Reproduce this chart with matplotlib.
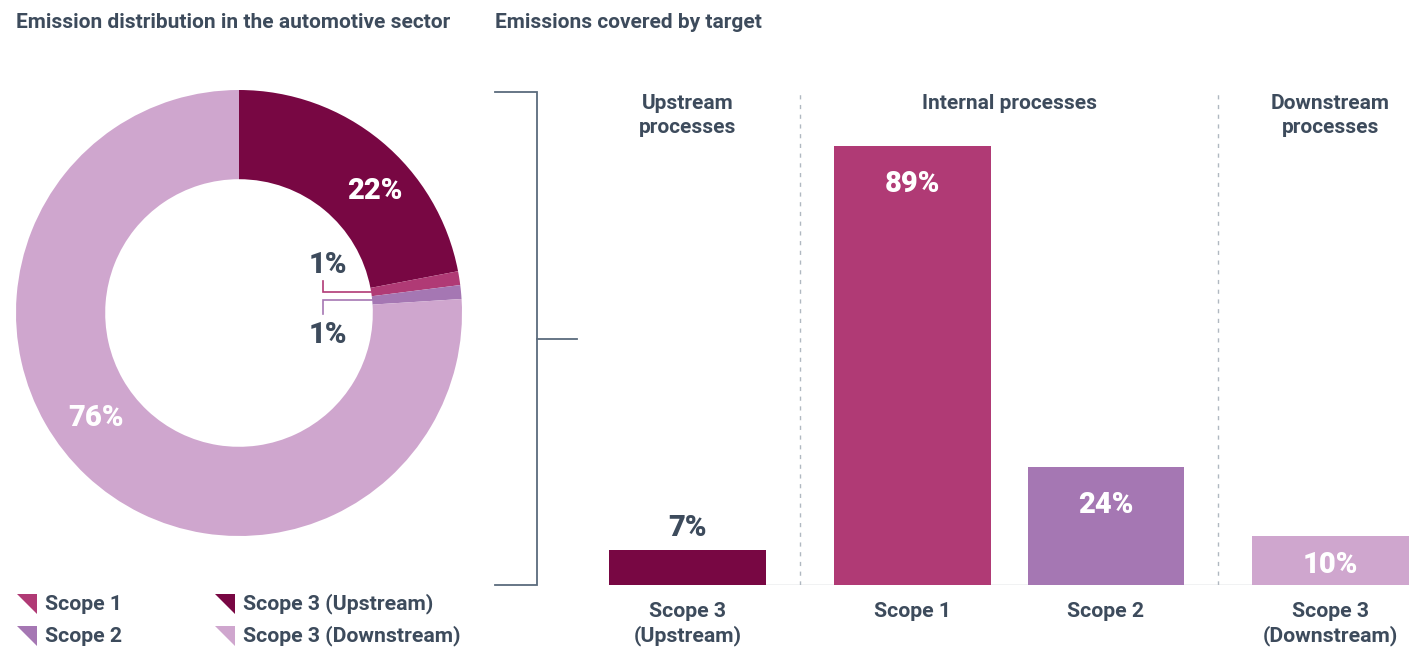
import numpy as np
import matplotlib
matplotlib.use("Agg")
import matplotlib.pyplot as plt
from matplotlib.patches import Polygon

plt.rcParams['font.family'] = ['Roboto', 'DejaVu Sans']
plt.rcParams['font.weight'] = 'bold'

# data
pie_labels = ['Scope 3 (Upstream)', 'Scope 1', 'Scope 2', 'Scope 3 (Downstream)']
pie_values = [22, 1, 1, 76]
pie_colors = ['#780743', '#B03A75', '#A577B3', '#CFA6CE']

bar_labels = ['Scope 3\n(Upstream)', 'Scope 1', 'Scope 2', 'Scope 3\n(Downstream)']
bar_values = [7, 89, 24, 10]
bar_colors = ['#780743', '#B03A75', '#A577B3', '#CFA6CE']
group_titles = ['Upstream\nprocesses', 'Internal processes', 'Downstream\nprocesses']

legend_labels = ['Scope 1', 'Scope 2', 'Scope 3 (Upstream)', 'Scope 3 (Downstream)']
legend_colors = ['#B03A75', '#A577B3', '#780743', '#CFA6CE']

TXT = '#3D4B5C'
W, H = 1409, 650
PCT = dict(fontsize=21, fontweight='black')

fig = plt.figure(figsize=(W / 100, H / 100), dpi=100)


def fx(px):
    return px / W


def fy(py):
    return 1 - py / H


# titles
fig.text(fx(16), fy(22), 'Emission distribution in the automotive sector',
         fontsize=15, color=TXT, va='center', ha='left')
fig.text(fx(495), fy(22), 'Emissions covered by target',
         fontsize=15, color=TXT, va='center', ha='left')

# ---- donut ----
cx, cy, R = 239, 313, 223
ax1 = fig.add_axes([fx(cx - R), fy(cy + R), 2 * R / W, 2 * R / H])
inner = 0.6
ax1.pie(pie_values, colors=pie_colors, startangle=90, counterclock=False,
        radius=1, wedgeprops=dict(width=1 - inner, edgecolor='none'))
ax1.set_xlim(-1, 1)
ax1.set_ylim(-1, 1)
ax1.set_aspect('equal')
ax1.axis('off')

ax1.text(0.61, 0.545, f'{pie_values[0]}%', color='white', ha='center',
         va='center', **PCT)
ax1.text(-0.64, -0.47, f'{pie_values[3]}%', color='white', ha='center',
         va='center', **PCT)

# small slices with leader lines
cum = np.cumsum([0] + pie_values)
lx = 0.377
for i, (ty, sy) in zip([1, 2], [(0.215, 0.143), (-0.10, -0.005)]):
    mid = np.deg2rad(90 - (cum[i] + pie_values[i] / 2) * 3.6)
    yy = inner * np.sin(mid)
    xx = inner * np.cos(mid)
    ax1.plot([lx, lx, xx], [sy, yy, yy], color=pie_colors[i], lw=1.2,
             solid_joinstyle='miter')
    ax1.text(lx + 0.02, ty, f'{pie_values[i]}%', color=TXT, ha='center',
             va='center', **PCT)

# legend
leg_pos = [(17, 604), (17, 636), (215, 604), (215, 636)]
for (px, py), lab, col in zip(leg_pos, legend_labels, legend_colors):
    tri = Polygon([(fx(px), fy(py - 10)), (fx(px + 20), fy(py - 10)),
                   (fx(px + 20), fy(py + 10))], closed=True,
                  transform=fig.transFigure, facecolor=col, edgecolor='none')
    fig.add_artist(tri)
    fig.text(fx(px + 28), fy(py), lab, fontsize=15.3, color=TXT,
             ha='left', va='center')

# ---- bars ----
pos = [0, 1.16, 2.16, 3.32]
bw = 0.81
ax2 = fig.add_axes([fx(495), fy(585), 914 / W, 493 / H])
ax2.set_xlim(-0.995, 3.725)
ax2.set_ylim(0, 100)
ax2.axis('off')

ax2.bar(pos, bar_values, width=bw, color=bar_colors, edgecolor='none')
ax2.plot([pos[0] - bw / 2, 3.725], [0, 0], color='#B8BEC5', lw=1, zorder=0)

for x, v in zip(pos, bar_values):
    if v < 10:
        ax2.annotate(f'{v}%', (x, v), xytext=(0, 16), textcoords='offset points',
                     ha='center', va='center', color=TXT, **PCT)
    else:
        off = -min(27.5, v * 4.93 / 2 * 0.72 + 3)
        ax2.annotate(f'{v}%', (x, v), xytext=(0, off), textcoords='offset points',
                     ha='center', va='center', color='white', **PCT)

for x, lab in zip(pos, bar_labels):
    ax2.annotate(lab, (x, 0), xytext=(0, -12), textcoords='offset points',
                 ha='center', va='top', fontsize=15.3, color=TXT, linespacing=1.3,
                 annotation_clip=False)

# group dividers and titles
div1 = (pos[0] + pos[1]) / 2
div2 = (pos[2] + pos[3]) / 2
for d in [div1, div2]:
    ax2.plot([d, d], [0, 100], color='#B0B8C1', lw=1, ls=(0, (3, 4)), zorder=0)
gx = [pos[0], (pos[1] + pos[2]) / 2, pos[3]]
for x, t in zip(gx, group_titles):
    ax2.text(x, 99.5, t, ha='center', va='top', fontsize=15, color=TXT,
             linespacing=1.27)

# bracket
bc = '#5B6B7D'
ax2.plot([-0.995, -0.778, -0.778, -0.995], [100, 100, 0, 0], color=bc, lw=1.3,
         clip_on=False, solid_joinstyle='miter')
ax2.plot([-0.778, -0.572], [50, 50], color=bc, lw=1.3, clip_on=False)

fig.savefig('out.png', dpi=100, facecolor='white')
